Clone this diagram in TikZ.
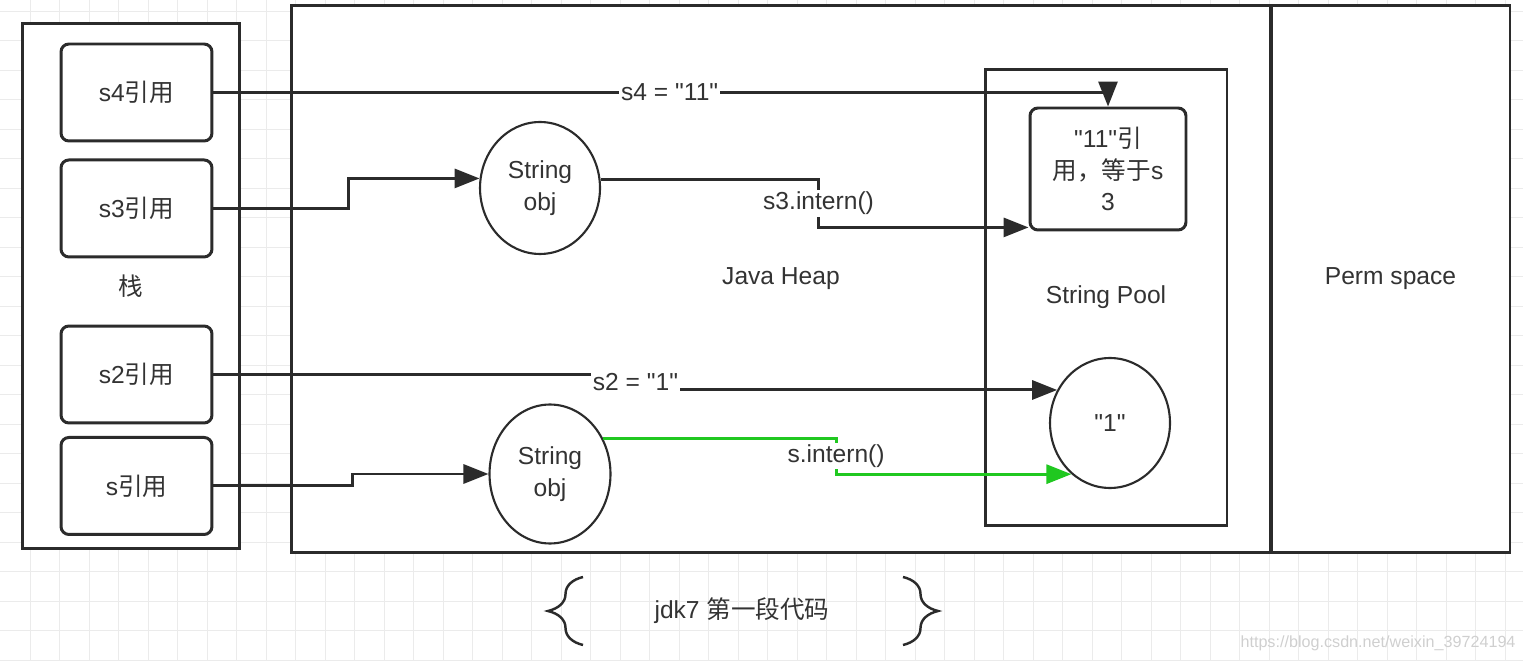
\documentclass[tikz,border=0pt]{standalone}
\usepackage{fontspec}
\setmainfont{Liberation Sans}
\newfontfamily\cjk{Noto Sans CJK SC}
\usepackage{tikz}
\usetikzlibrary{shapes.geometric, arrows.meta, decorations.pathreplacing}
\definecolor{inkgray}{HTML}{2B2B2B}
\definecolor{textgray}{HTML}{333333}
\definecolor{gridgray}{HTML}{EBEBEB}
\definecolor{markgray}{HTML}{CFCFCF}
\definecolor{interngreen}{RGB}{32,200,32}
\newcommand{\qt}{\textquotedbl}
\tikzstyle{area} = [rectangle,
draw=inkgray,
line width=1.7pt,
fill=white,
text=textgray]
\tikzstyle{ref} = [rectangle,
rounded corners=4.5pt,
minimum width=3.02cm,
minimum height=1.94cm,
text centered,
draw=inkgray,
line width=1.7pt,
fill=white,
text=textgray]
\tikzstyle{obj} = [ellipse,
inner sep=0pt,
align=center,
draw=inkgray,
line width=1.2pt,
fill=white,
text=textgray]
\tikzstyle{arr} = [-{Triangle[length=0.5cm, width=0.38cm]},
color=inkgray,
line width=1.7pt]
\tikzstyle{lbl} = [fill=white, inner sep=1pt, text=textgray]
\tikzstyle{brace} = [decorate,
decoration={brace, amplitude=0.7cm},
draw=inkgray,
line width=1.4pt]
\tikzstyle{gridln} = [draw=gridgray, line width=0.5pt]

\begin{document}
\begin{tikzpicture}[x=0.02cm, y=-0.02cm, node distance=2.32cm]
\tikzstyle{every node}=[font=\fontsize{14}{18}\selectfont]
\useasboundingbox (0,0) rectangle (1523,661);
% background grid
\foreach \gx in {30,59.5,...,1523} \draw[gridln] (\gx,0) -- (\gx,661);
\foreach \gy in {11,40.5,...,661} \draw[gridln] (0,\gy) -- (1523,\gy);

% memory areas
\node (heap) [area, minimum width=19.6cm, minimum height=10.96cm] at (781,279) {Java Heap};
\node (perm) [area, minimum width=4.78cm, minimum height=10.96cm] at (1390.5,279) {Perm space};
\node (stack) [area, minimum width=4.36cm, minimum height=10.52cm] at (131,286) {\cjk 栈};
\node (pool) [area, minimum width=4.84cm, minimum height=9.14cm] at (1106,297.5) {String Pool};

% references on the stack
\node (s4) [ref] at (136.5,92.5) {s4{\cjk 引用}};
\node (s3) [ref, below of=s4] {s3{\cjk 引用}};
\node (s2) [ref] at (136.5,374.5) {s2{\cjk 引用}};
\node (s) [ref, below of=s2, node distance=2.23cm] {s{\cjk 引用}};

% objects
\node (obj1) [obj, minimum width=2.4cm, minimum height=2.64cm] at (540,188) {String\\obj};
\node (obj2) [obj, minimum width=2.42cm, minimum height=2.78cm] at (550,474) {String\\obj};
\node (str11) [ref, minimum width=3.12cm, minimum height=2.44cm, align=center] at (1108,169) {\qt11\qt{\cjk 引}\\{\cjk 用，等于}s\\3};
\node (one) [obj, minimum width=2.4cm, minimum height=2.6cm] at (1110,423) {\qt1\qt};
\coordinate (hit11) at ([yshift=2.3pt]str11.south west);

\draw [arr] (s4.east) -| node[lbl, pos=0.255] {s4 = \qt11\qt} (str11.north);
\draw [arr] (s3.east) -- ++(135,0) |- (obj1.171);
\draw [arr] (obj1.8) -- ++(218,0) |- node[lbl, pos=0.25] {s3.intern()} (hit11);
\draw [arr] (s2.east) -- ++(422,0) |- node[lbl, pos=0.25] {s2 = \qt1\qt} (one.148);
\draw [arr] (s.east) -- ++(139,0) |- (obj2.west);
\draw [arr, color=interngreen] (obj2.34) -- ++(233,0) |- node[lbl, pos=0.25] {s.intern()} (one.233);

% caption
\draw [brace] (583,645) -- (583,577);
\draw [brace] (903,577) -- (903,645);
\node (jdk) [text=textgray] at (742,611) {jdk7 {\cjk 第一段代码}};
\node (mark) [text=markgray, font=\fontsize{9.2}{11}\selectfont] at (1378,643) {https://blog.csdn.net/weixin\_39724194};
\end{tikzpicture}
\end{document}
